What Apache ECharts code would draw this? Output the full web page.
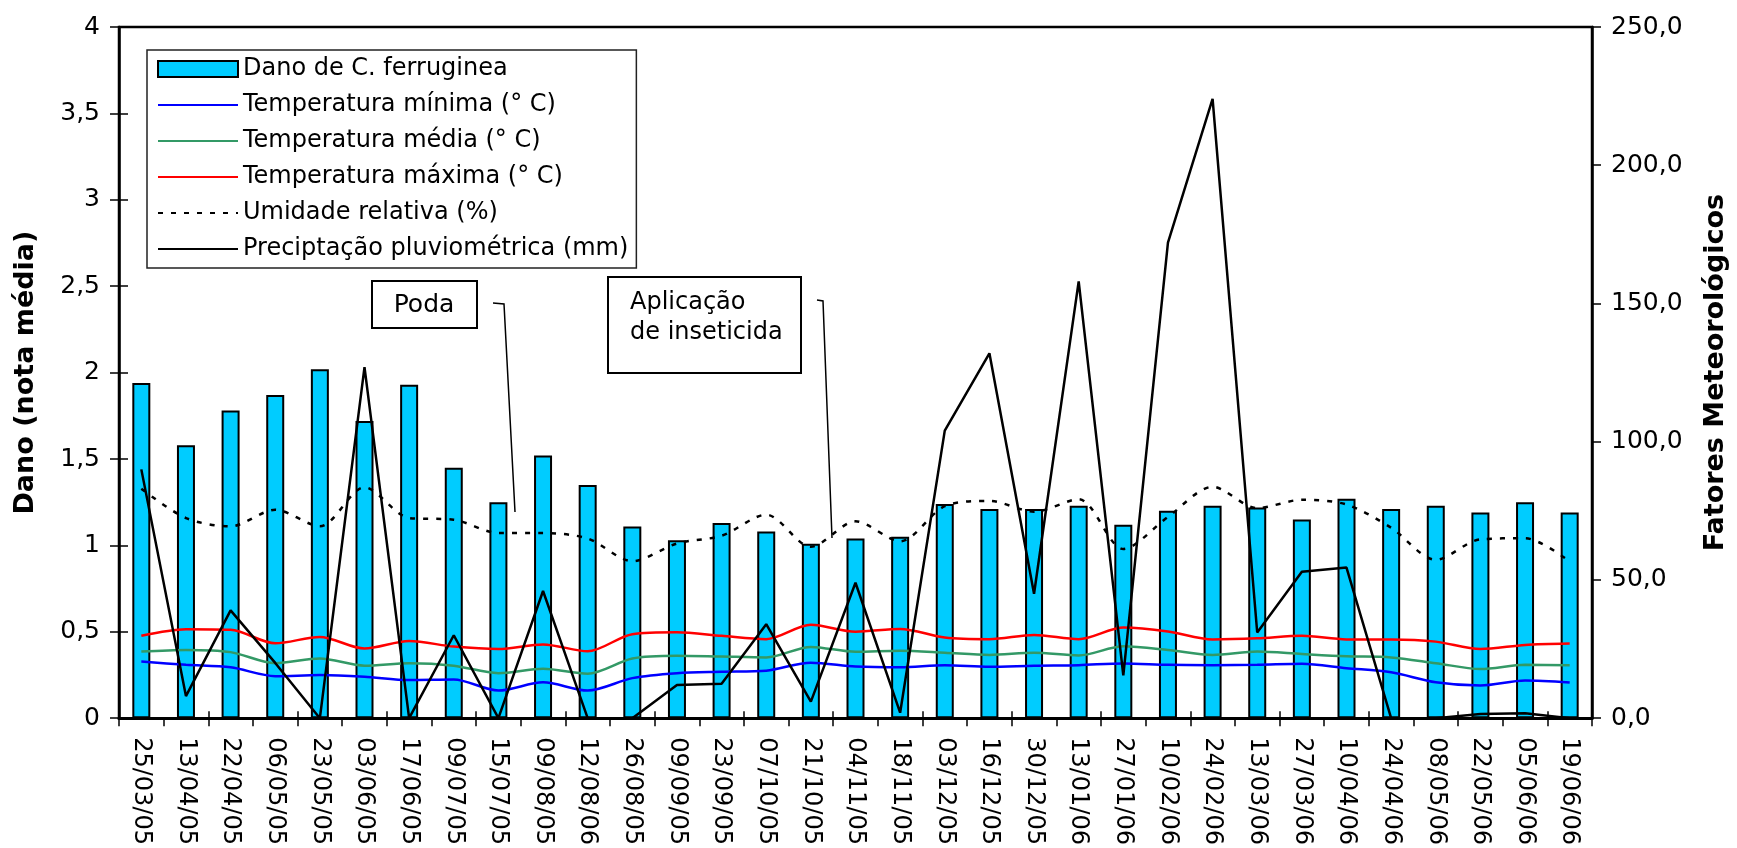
<!DOCTYPE html>
<html>
<head>
<meta charset="utf-8">
<script src="https://cdn.jsdelivr.net/npm/echarts@6/dist/echarts.min.js"></script>
<style>
  html, body { margin: 0; padding: 0; background: #fff; }
  #chart { width: 1737px; height: 848px; }
</style>
</head>
<body>
<div id="chart"></div>
<script>
// Sampling dates
const categories = ['25/03/05','13/04/05','22/04/05','06/05/05','23/05/05','03/06/05','17/06/05','09/07/05','15/07/05','09/08/05','12/08/06','26/08/05','09/09/05','23/09/05','07/10/05','21/10/05','04/11/05','18/11/05','03/12/05','16/12/05','30/12/05','13/01/06','27/01/06','10/02/06','24/02/06','13/03/06','27/03/06','10/04/06','24/04/06','08/05/06','22/05/06','05/06/06','19/06/06'];

// Mean damage score (left axis)
const dano = [1.94,1.58,1.78,1.87,2.02,1.72,1.93,1.45,1.25,1.52,1.35,1.11,1.03,1.13,1.08,1.01,1.04,1.05,1.24,1.21,1.21,1.23,1.12,1.20,1.23,1.22,1.15,1.27,1.21,1.23,1.19,1.25,1.19];

// Weather factors (right axis)
const tempMin = [20.5,19.3,18.4,15.2,15.6,15.0,13.8,14.0,10.0,13.0,10.0,14.5,16.3,16.8,17.2,20.1,18.7,18.4,19.2,18.6,19.0,19.2,19.8,19.3,19.2,19.3,19.7,18.1,16.6,13.0,11.8,13.6,12.9];
const tempMed = [24.1,24.7,23.9,19.9,21.6,19.0,19.9,19.0,16.3,17.9,16.1,21.6,22.6,22.3,22.0,25.8,24.0,24.4,23.7,22.9,23.7,22.7,26.0,24.7,22.9,24.1,23.2,22.4,22.0,19.9,17.8,19.3,19.2];
const tempMax = [29.8,32.2,32.0,27.1,29.4,25.2,27.9,25.9,25.0,26.7,24.2,30.4,31.1,29.8,28.6,33.8,31.3,32.3,29.2,28.6,30.1,28.6,32.8,31.4,28.5,28.9,29.8,28.5,28.5,27.7,25.0,26.5,27.0];
const umidade = [83.0,72.4,69.4,75.4,69.4,83.5,72.4,71.8,67.0,67.0,65.0,56.8,63.2,66.0,73.6,62.0,71.2,64.0,76.7,78.6,74.7,79.2,61.2,72.8,83.7,76.0,79.0,77.3,68.9,57.3,64.7,65.1,56.7];
const precip = [90,8,39,20,0,127,0,30,0,46,0,0,12,12.5,34,6,49,2,104,132,45,158,15.5,172,224,31,53,54.5,0,0,1.5,1.8,0];

// Axis ranges
const leftMax = 4, leftStep = 0.5;
const rightMax = 250, rightStep = 50;

const FONT = 'DejaVu Sans';
const names = {
  dano: 'Dano de C. ferruginea',
  tmin: 'Temperatura mínima (° C)',
  tmed: 'Temperatura média (° C)',
  tmax: 'Temperatura máxima (° C)',
  umid: 'Umidade relativa (%)',
  prec: 'Preciptação pluviométrica (mm)'
};

const chart = echarts.init(document.getElementById('chart'), null, { renderer: 'canvas' });

const lineSeries = (name, data, color, extra) => Object.assign({
  name, type: 'line', data, yAxisIndex: 1, xAxisIndex: 0,
  symbol: 'none', smooth: 0.3,
  lineStyle: { color, width: 2.5 },
  itemStyle: { color },
  z: 3
}, extra || {});

// legend entries for lines: plain line, no marker
const lineEntry = name => ({ name, itemStyle: { opacity: 0 } });

chart.setOption({
  animation: false,
  backgroundColor: '#fff',
  textStyle: { fontFamily: FONT, color: '#000' },
  grid: {
    left: 119, right: 139, top: 27, bottom: 128,
    show: true, borderColor: '#000', borderWidth: 2.5, backgroundColor: 'transparent'
  },
  legend: {
    orient: 'vertical', left: 147, top: 50,
    padding: [6, 8, 6, 10],
    itemWidth: 80, itemHeight: 16, itemGap: 10,
    backgroundColor: '#fff', borderColor: '#222', borderWidth: 1.5, borderRadius: 0,
    textStyle: { fontFamily: FONT, fontSize: 24, color: '#000', lineHeight: 26 },
    data: [
      { name: names.dano, icon: 'rect' },
      lineEntry(names.tmin), lineEntry(names.tmed), lineEntry(names.tmax),
      lineEntry(names.umid), lineEntry(names.prec)
    ]
  },
  xAxis: [{
    type: 'category', data: categories, position: 'bottom',
    axisLine: { lineStyle: { color: '#000', width: 3 } },
    axisTick: { show: true, length: 8, lineStyle: { color: '#000', width: 1.5 } },
    axisLabel: { interval: 0, rotate: -90, margin: 19, fontSize: 24, fontFamily: FONT, color: '#000' },
    splitLine: { show: false }
  }, {
    // inner half of the crossing tick marks
    type: 'category', data: categories, position: 'bottom',
    axisLine: { show: false },
    axisTick: { show: true, inside: true, length: 7, lineStyle: { color: '#000', width: 1.5 } },
    axisLabel: { show: false },
    splitLine: { show: false }
  }],
  yAxis: [{
    type: 'value', position: 'left', min: 0, max: leftMax, interval: leftStep,
    name: 'Dano (nota média)', nameLocation: 'middle', nameRotate: 90, nameGap: 80,
    nameTextStyle: { fontFamily: FONT, fontSize: 27, fontWeight: 'bold', color: '#000' },
    axisLine: { show: true, lineStyle: { color: '#000', width: 2.5 } },
    axisTick: { show: true, length: 9, lineStyle: { color: '#000', width: 1.5 } },
    axisLabel: { margin: 19, fontSize: 25, fontFamily: FONT, color: '#000',
      formatter: v => String(v).replace('.', ',') },
    splitLine: { show: false }
  }, {
    type: 'value', position: 'right', min: 0, max: rightMax, interval: rightStep,
    name: 'Fatores Meteorológicos', nameLocation: 'middle', nameRotate: 90, nameGap: 110,
    nameTextStyle: { fontFamily: FONT, fontSize: 27, fontWeight: 'bold', color: '#000' },
    axisLine: { show: true, lineStyle: { color: '#000', width: 2.5 } },
    axisTick: { show: true, length: 9, lineStyle: { color: '#000', width: 1.5 } },
    axisLabel: { margin: 19, fontSize: 25, fontFamily: FONT, color: '#000',
      formatter: v => v.toFixed(1).replace('.', ',') },
    splitLine: { show: false }
  }, {
    // inner half of the crossing tick marks on the left axis
    type: 'value', position: 'left', min: 0, max: leftMax, interval: leftStep,
    axisLine: { show: false },
    axisTick: { show: true, inside: true, length: 9, lineStyle: { color: '#000', width: 1.5 } },
    axisLabel: { show: false },
    splitLine: { show: false }
  }],
  series: [
    {
      name: names.dano, type: 'bar', data: dano, xAxisIndex: 0, yAxisIndex: 0,
      barWidth: 18,
      itemStyle: { color: '#00CCFF', borderColor: '#000', borderWidth: 2 },
      z: 2
    },
    lineSeries(names.tmin, tempMin, '#0000FF'),
    lineSeries(names.tmed, tempMed, '#339966'),
    lineSeries(names.tmax, tempMax, '#FF0000'),
    lineSeries(names.umid, umidade, '#000000', {
      lineStyle: { color: '#000', width: 2.5, type: [5, 8] }
    }),
    lineSeries(names.prec, precip, '#000000', { smooth: false })
  ],
  graphic: [
    { type: 'rect', z: 10, shape: { x: 372, y: 281, width: 105, height: 47 },
      style: { fill: '#fff', stroke: '#000', lineWidth: 2 } },
    { type: 'text', z: 11, x: 424, y: 305,
      style: { text: 'Poda', fontFamily: FONT, fontSize: 25, fill: '#000', align: 'center', verticalAlign: 'middle' } },
    { type: 'polyline', z: 10, shape: { points: [[493, 303], [504, 304], [515, 512]] },
      style: { stroke: '#000', lineWidth: 1.5, fill: null } },
    { type: 'rect', z: 10, shape: { x: 608, y: 277, width: 193, height: 96 },
      style: { fill: '#fff', stroke: '#000', lineWidth: 2 } },
    { type: 'text', z: 11, x: 630, y: 318,
      style: { text: 'Aplicação\nde inseticida', fontFamily: FONT, fontSize: 24, lineHeight: 30,
        fill: '#000', align: 'left', verticalAlign: 'middle' } },
    { type: 'polyline', z: 10, shape: { points: [[817, 300], [823, 301], [832, 538]] },
      style: { stroke: '#000', lineWidth: 1.5, fill: null } }
  ]
});
</script>
</body>
</html>
